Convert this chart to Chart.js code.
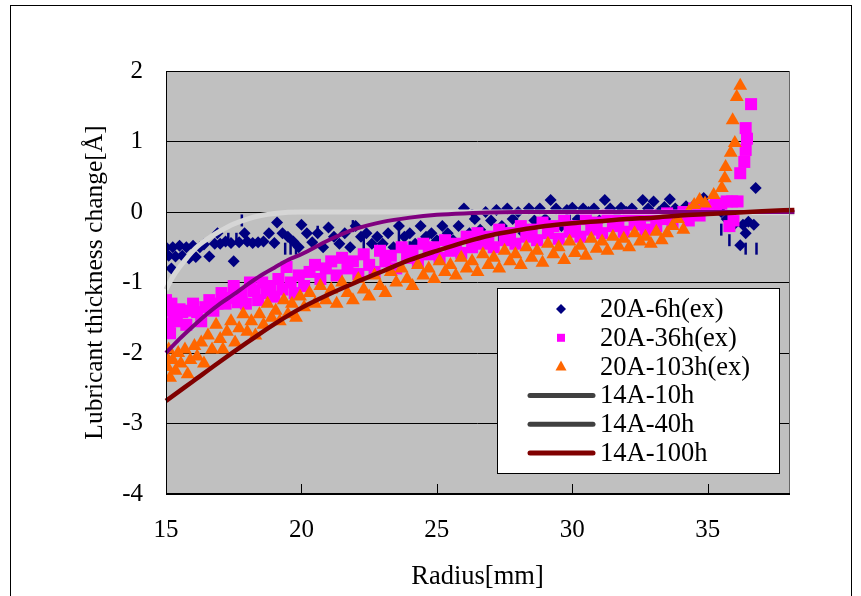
<!DOCTYPE html>
<html>
<head>
<meta charset="utf-8">
<title>Lubricant thickness change</title>
<script src="https://cdn.jsdelivr.net/npm/chart.js@4/dist/chart.umd.min.js"></script>
<style>
  html, body { margin: 0; padding: 0; background: #fff; }
  canvas { display: block; }
</style>
</head>
<body>
<canvas id="chart" width="861" height="596"></canvas>
<script>
// axis ticks
const xTicks = [15, 20, 25, 30, 35];
const yTicks = [-4, -3, -2, -1, 0, 1, 2];

// measured data [radius mm, thickness change A]
const ex6h = [
  [15.0,-0.5],[15.1,-0.62],[15.2,-0.8],[15.25,-0.5],[15.35,-0.63],[15.5,-0.48],[15.6,-0.62],[15.75,-0.5],
  [15.85,-0.66],[16.0,-0.48],[16.1,-0.64],[16.25,-0.5],[16.4,-0.46],[16.6,-0.63],[16.8,-0.45],[16.9,-0.3],
  [17.0,-0.45],[17.2,-0.42],[17.5,-0.7],[17.4,-0.44],[17.7,-0.43],[17.9,-0.3],[18.0,-0.42],[18.2,-0.44],
  [18.4,-0.43],[18.6,-0.42],[18.8,-0.3],[19.0,-0.44],[19.1,-0.15],[19.3,-0.3],[19.5,-0.35],[19.7,-0.42],
  [19.9,-0.5],[20.0,-0.18],[20.2,-0.3],[20.4,-0.43],[20.6,-0.3],[20.8,-0.5],[21.0,-0.22],[21.2,-0.35],
  [21.4,-0.45],[21.6,-0.3],[21.8,-0.5],[22.0,-0.2],[22.2,-0.35],[22.4,-0.3],[22.6,-0.45],[22.8,-0.35],
  [23.0,-0.45],[23.2,-0.3],[23.4,-0.5],[23.6,-0.2],[23.8,-0.35],[24.0,-0.3],[24.2,-0.45],[24.4,-0.2],
  [24.6,-0.35],[24.8,-0.3],[25.0,-0.4],[25.2,-0.2],[25.4,-0.3],[25.6,-0.4],[25.8,-0.2],[26.0,0.05],
  [26.2,-0.3],[26.4,-0.1],[26.6,-0.25],[26.8,0.0],[27.0,-0.12],[27.2,0.03],[27.4,-0.2],[27.6,0.05],
  [27.8,-0.1],[28.0,0.0],[28.2,-0.3],[28.4,0.05],[28.6,-0.12],[28.8,0.05],[29.0,-0.1],[29.2,0.17],
  [29.4,0.05],[29.6,-0.2],[29.8,0.03],[30.0,0.06],[30.2,-0.1],[30.4,0.05],[30.6,0.0],[30.8,0.05],
  [31.0,-0.12],[31.2,0.17],[31.4,0.05],[31.6,-0.05],[31.8,0.06],[32.0,0.0],[32.2,0.05],[32.4,-0.1],
  [32.6,0.17],[32.8,0.05],[33.0,0.15],[33.2,0.0],[33.4,0.07],[33.6,0.18],[33.8,0.05],[34.0,-0.05],
  [34.2,0.08],[34.5,0.1],[34.85,0.2],[35.0,0.05],[35.3,0.1],[35.5,0.0],[35.7,-0.1],[35.96,-0.18],
  [36.3,-0.18],[36.5,-0.14],[36.4,-0.3],[36.2,-0.47],[36.77,0.34],[36.7,-0.18]
];
// thin vertical marks of the same series
const ex6hBars = [
  [17.8,-0.12],[17.3,-0.38],[17.6,-0.38],[19.4,-0.52],[19.6,-0.52],[19.8,-0.52],[20.6,-0.28],[21.9,-0.2],
  [22.3,-0.45],[23.6,-0.35],[24.0,-0.5],[26.3,-0.05],[27.3,-0.35],[29.9,-0.12],[33.7,-0.1],[35.5,-0.25],
  [35.8,-0.4],[36.4,-0.52],[36.8,-0.52]
];
const ex36h = [
  [15.0,-1.25],[15.05,-1.4],[15.1,-1.58],[15.15,-1.72],[15.2,-1.3],[15.3,-1.45],[15.4,-1.55],[15.5,-1.38],
  [15.6,-1.42],[15.75,-1.6],[15.9,-1.4],[16.0,-1.3],[16.15,-1.42],[16.3,-1.55],[16.45,-1.35],[16.6,-1.25],
  [16.75,-1.4],[16.9,-1.3],[17.05,-1.15],[17.2,-1.3],[17.35,-1.22],[17.5,-1.05],[17.65,-1.28],[17.8,-1.15],
  [17.95,-1.3],[18.1,-1.0],[18.25,-1.12],[18.4,-1.25],[18.55,-1.0],[18.7,-1.15],[18.85,-1.05],[19.0,-1.2],
  [19.15,-0.95],[19.3,-1.1],[19.45,-0.78],[19.6,-1.0],[19.75,-1.15],[19.9,-0.9],[20.1,-1.05],[20.3,-0.85],
  [20.5,-0.75],[20.7,-0.95],[20.9,-0.8],[21.1,-0.7],[21.3,-0.9],[21.5,-0.65],[21.7,-0.8],[21.9,-0.7],
  [22.1,-0.88],[22.3,-0.6],[22.5,-0.75],[22.7,-0.85],[22.9,-0.55],[23.1,-0.7],[23.3,-0.62],[23.5,-0.8],
  [23.7,-0.5],[23.9,-0.65],[24.1,-0.55],[24.3,-0.72],[24.5,-0.45],[24.7,-0.6],[24.9,-0.5],[25.1,-0.65],
  [25.3,-0.4],[25.5,-0.55],[25.7,-0.45],[25.9,-0.58],[26.1,-0.35],[26.3,-0.5],[26.5,-0.3],[26.7,-0.45],
  [26.9,-0.35],[27.1,-0.5],[27.3,-0.25],[27.5,-0.4],[27.7,-0.3],[27.9,-0.45],[28.1,-0.2],[28.3,-0.35],
  [28.5,-0.25],[28.7,-0.4],[28.9,-0.15],[29.1,-0.3],[29.3,-0.2],[29.5,-0.38],[29.7,-0.12],[29.9,-0.28],
  [30.1,-0.2],[30.3,-0.35],[30.5,-0.1],[30.7,-0.25],[30.9,-0.15],[31.1,-0.3],[31.3,-0.05],[31.5,-0.2],
  [31.7,-0.12],[31.9,-0.28],[32.1,-0.05],[32.3,-0.18],[32.5,-0.1],[32.7,-0.25],[32.9,-0.05],[33.1,-0.2],
  [33.3,-0.1],[33.5,-0.02],[33.7,-0.15],[33.9,-0.05],[34.1,0.0],[34.3,-0.12],[34.5,0.05],[34.7,-0.05],
  [34.9,0.08],[35.1,0.05],[35.3,0.1],[35.5,0.12],[35.7,0.15],[35.9,0.15],[35.8,-0.2],[35.95,-0.12],
  [36.1,0.15],[36.2,0.55],[36.35,0.71],[36.4,0.88],[36.45,1.04],[36.4,1.19],[36.6,1.53]
];
const ex103h = [
  [15.0,-2.05],[15.05,-2.2],[15.1,-1.95],[15.15,-2.35],[15.25,-2.1],[15.35,-2.25],[15.45,-2.0],[15.55,-2.15],
  [15.7,-1.95],[15.8,-2.3],[15.9,-2.1],[16.05,-1.9],[16.15,-2.05],[16.3,-1.85],[16.4,-2.15],[16.55,-1.75],
  [16.7,-1.95],[16.85,-1.6],[17.0,-1.8],[17.1,-1.95],[17.25,-1.7],[17.4,-1.55],[17.55,-1.85],[17.7,-1.65],
  [17.85,-1.45],[18.0,-1.7],[18.15,-1.55],[18.3,-1.75],[18.45,-1.45],[18.6,-1.6],[18.75,-1.3],[18.9,-1.5],
  [19.05,-1.4],[19.2,-1.55],[19.35,-1.25],[19.5,-1.45],[19.65,-1.3],[19.8,-1.5],[19.95,-1.2],[20.1,-1.35],
  [20.3,-1.15],[20.5,-1.3],[20.7,-1.05],[20.9,-1.25],[21.1,-1.1],[21.3,-1.3],[21.5,-1.0],[21.7,-1.15],
  [21.9,-1.25],[22.1,-0.95],[22.3,-1.1],[22.5,-1.2],[22.7,-0.9],[22.9,-1.05],[23.1,-1.15],[23.3,-0.85],
  [23.5,-1.0],[23.7,-0.8],[23.9,-0.95],[24.1,-1.05],[24.3,-0.75],[24.5,-0.9],[24.7,-0.8],[24.9,-0.95],
  [25.1,-0.7],[25.3,-0.85],[25.5,-0.75],[25.7,-0.9],[25.9,-0.65],[26.1,-0.8],[26.3,-0.7],[26.5,-0.85],
  [26.7,-0.6],[26.9,-0.75],[27.1,-0.65],[27.3,-0.8],[27.5,-0.55],[27.7,-0.7],[27.9,-0.6],[28.1,-0.75],
  [28.3,-0.5],[28.5,-0.65],[28.7,-0.55],[28.9,-0.72],[29.1,-0.45],[29.3,-0.6],[29.5,-0.5],[29.7,-0.68],
  [29.9,-0.42],[30.1,-0.58],[30.3,-0.48],[30.5,-0.62],[30.7,-0.38],[30.9,-0.52],[31.1,-0.42],[31.3,-0.55],
  [31.5,-0.35],[31.7,-0.48],[31.9,-0.38],[32.1,-0.5],[32.3,-0.3],[32.5,-0.42],[32.7,-0.35],[32.9,-0.45],
  [33.1,-0.28],[33.3,-0.4],[33.5,-0.3],[33.7,-0.2],[33.9,-0.1],[34.1,-0.25],[34.3,0.0],[34.5,0.1],
  [34.7,0.17],[34.9,0.12],[35.22,0.24],[35.52,0.34],[35.63,0.48],[35.66,0.64],[35.85,0.84],[35.92,1.3],
  [36.0,0.98],[36.07,1.63],[36.2,1.79]
];

// simulated curves
const sim10h = [
  [15,-1.1],[15.25,-0.92],[15.5,-0.78],[15.75,-0.66],[16,-0.55],[16.25,-0.46],[16.5,-0.39],[17,-0.27],
  [17.5,-0.17],[18,-0.1],[18.5,-0.05],[19,-0.02],[20,0],[25,0],[30,0],[38.2,-0.01]
];
const sim40h = [
  [15,-2.0],[15.5,-1.8],[16,-1.62],[16.5,-1.45],[17,-1.3],[17.5,-1.17],[18,-1.03],[18.5,-0.9],
  [19,-0.79],[19.5,-0.68],[20,-0.6],[21,-0.4],[22,-0.24],[23,-0.14],[24,-0.08],[25,-0.04],
  [26,-0.02],[28,0],[32,0],[38.2,0]
];
const sim100h = [
  [15,-2.68],[16,-2.4],[17,-2.12],[18,-1.85],[19,-1.59],[20,-1.36],[21,-1.17],[22,-1.0],
  [23,-0.84],[24,-0.68],[25,-0.55],[26,-0.43],[27,-0.33],[28,-0.26],[29,-0.2],[30,-0.16],
  [31,-0.13],[32,-0.1],[33,-0.08],[34,-0.05],[35,-0.03],[36,-0.01],[37,0.01],[38.2,0.03]
];

const FONT = "'Liberation Serif', 'Times New Roman', serif";
const pts = a => a.map(p => ({x: p[0], y: p[1]}));

const datasets = [
  { label: '14A-100h', data: pts(sim100h), showLine: true, borderColor: '#800000', borderWidth: 4.5,
    pointRadius: 0, cubicInterpolationMode: 'monotone', order: 0, clip: 8 },
  { label: '14A-40h', data: pts(sim40h), showLine: true, borderColor: '#800080', borderWidth: 4,
    pointRadius: 0, cubicInterpolationMode: 'monotone', order: 1, clip: 8 },
  { label: '14A-10h', data: pts(sim10h), showLine: true, borderColor: '#d6d6d6', borderWidth: 5,
    pointRadius: 0, cubicInterpolationMode: 'monotone', order: 2, clip: 8 },
  { label: '20A-103h(ex)', data: pts(ex103h), pointStyle: 'triangle', pointRadius: 8,
    backgroundColor: '#ff6600', borderWidth: 0, order: 3 },
  { label: '20A-36h(ex)', data: pts(ex36h), pointStyle: 'rect', pointRadius: 8.5,
    backgroundColor: '#ff00ff', borderWidth: 0, order: 4 },
  { label: '20A-6h(ex)', data: pts(ex6h), pointStyle: 'rectRot', pointRadius: 6,
    backgroundColor: '#000080', borderWidth: 0, order: 5 },
  { label: '', data: pts(ex6hBars), pointStyle: 'line', rotation: 90, pointRadius: 6,
    borderColor: '#000080', borderWidth: 2.5, order: 6 }
];

// legend entries in reference order
const legendItems = [
  { text: '20A-6h(ex)', kind: 'diamond', color: '#000080' },
  { text: '20A-36h(ex)', kind: 'square', color: '#ff00ff' },
  { text: '20A-103h(ex)', kind: 'triangle', color: '#ff6600' },
  { text: '14A-10h', kind: 'line', color: '#404040' },
  { text: '14A-40h', kind: 'line', color: '#404040' },
  { text: '14A-100h', kind: 'line', color: '#800000' }
];

const framePlugin = {
  id: 'frame',
  beforeDraw(chart) {
    const {ctx, chartArea: a} = chart;
    ctx.save();
    ctx.fillStyle = '#fff';
    ctx.fillRect(0, 0, chart.width, chart.height);
    ctx.strokeStyle = '#000';
    ctx.lineWidth = 1;
    ctx.strokeRect(10.5, 5.5, 841, 620);
    ctx.fillStyle = '#c0c0c0';
    ctx.fillRect(a.left, a.top, a.right - a.left, a.bottom - a.top);
    ctx.restore();
  },
  afterDraw(chart) {
    const {ctx, chartArea: a} = chart;
    const xs = chart.scales.x;
    ctx.save();
    // plot border
    ctx.strokeStyle = '#666';
    ctx.lineWidth = 1;
    ctx.beginPath();
    ctx.moveTo(a.right + 0.5, a.top);
    ctx.lineTo(a.right + 0.5, a.bottom);
    ctx.stroke();
    ctx.strokeStyle = '#000';
    ctx.beginPath();
    ctx.moveTo(a.left + 0.5, a.bottom);
    ctx.lineTo(a.left + 0.5, a.top + 0.5);
    ctx.lineTo(a.right, a.top + 0.5);
    ctx.stroke();
    ctx.lineWidth = 2;
    ctx.beginPath();
    ctx.moveTo(a.left, a.bottom);
    ctx.lineTo(a.right + 1, a.bottom);
    ctx.stroke();
    // inward x ticks
    ctx.lineWidth = 1;
    xTicks.forEach(v => {
      const px = Math.round(xs.getPixelForValue(v)) + 0.5;
      ctx.beginPath();
      ctx.moveTo(px, a.bottom);
      ctx.lineTo(px, a.bottom - 10);
      ctx.stroke();
    });

    // legend box
    const bx = 497.5, by = 288.5, bw = 282, bh = 185;
    ctx.fillStyle = '#fff';
    ctx.fillRect(bx, by, bw, bh);
    ctx.strokeStyle = '#000';
    ctx.strokeRect(bx, by, bw, bh);
    ctx.font = '26.5px ' + FONT;
    ctx.textBaseline = 'middle';
    ctx.textAlign = 'left';
    legendItems.forEach((it, i) => {
      const y = 309 + i * 28.8;
      const mx = 561;
      ctx.fillStyle = it.color;
      ctx.strokeStyle = it.color;
      ctx.beginPath();
      if (it.kind === 'diamond') {
        ctx.moveTo(mx, y - 5); ctx.lineTo(mx + 5, y); ctx.lineTo(mx, y + 5); ctx.lineTo(mx - 5, y);
        ctx.closePath(); ctx.fill();
      } else if (it.kind === 'square') {
        ctx.rect(mx - 4, y - 4, 8, 8); ctx.fill();
      } else if (it.kind === 'triangle') {
        ctx.moveTo(mx, y - 6); ctx.lineTo(mx + 5.5, y + 4); ctx.lineTo(mx - 5.5, y + 4);
        ctx.closePath(); ctx.fill();
      } else {
        ctx.lineWidth = 5;
        ctx.lineCap = 'round';
        ctx.moveTo(530, y); ctx.lineTo(593, y); ctx.stroke();
      }
      ctx.fillStyle = '#000';
      ctx.fillText(it.text, 600, y + 1);
    });
    ctx.restore();
  }
};

new Chart(document.getElementById('chart'), {
  type: 'scatter',
  data: { datasets },
  options: {
    responsive: false,
    animation: false,
    layout: { padding: { left: 0, right: 72, top: 71, bottom: 0 } },
    plugins: { legend: { display: false }, tooltip: { enabled: false } },
    scales: {
      x: {
        type: 'linear', min: 15, max: 38,
        afterBuildTicks: s => { s.ticks = xTicks.map(v => ({ value: v })); },
        afterFit: s => { s.height = 102; },
        grid: { display: false },
        border: { display: false },
        ticks: { padding: 13, color: '#000', font: { family: FONT, size: 25 }, maxRotation: 0,
                 callback: v => String(v) },
        title: { display: true, text: 'Radius[mm]', color: '#000',
                 font: { family: FONT, size: 26.5 }, padding: { top: 0, bottom: 3 } }
      },
      y: {
        type: 'linear', min: -4, max: 2,
        afterBuildTicks: s => { s.ticks = yTicks.map(v => ({ value: v })); },
        afterFit: s => { s.width = 166; },
        grid: { color: '#000', lineWidth: 1, drawTicks: false },
        border: { display: false },
        ticks: { padding: 23, color: '#000', font: { family: FONT, size: 25 },
                 callback: v => String(v) },
        title: { display: true, text: 'Lubricant thickness change[Å]', color: '#000',
                 font: { family: FONT, size: 25.5 }, padding: { top: 80, bottom: 0 } }
      }
    }
  },
  plugins: [framePlugin]
});
</script>
</body>
</html>
